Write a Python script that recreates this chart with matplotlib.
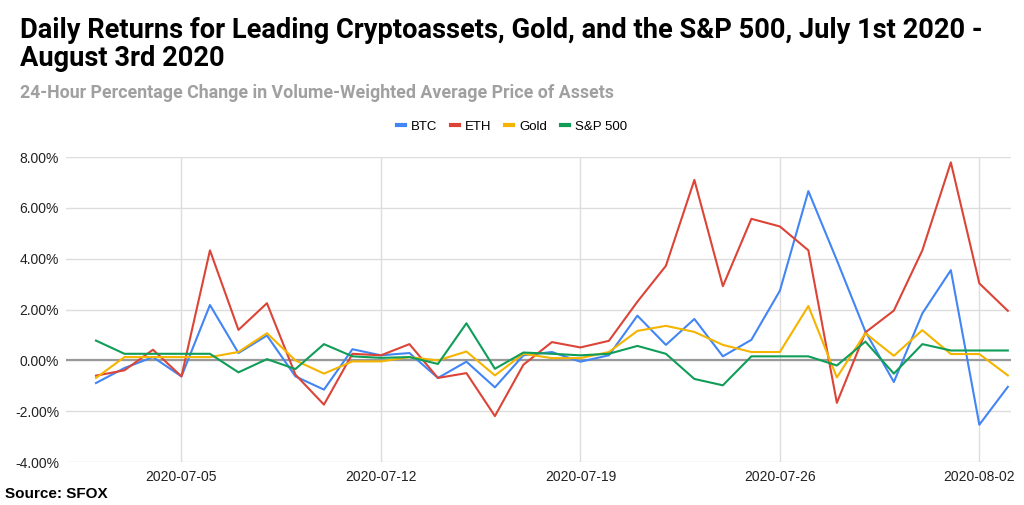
import matplotlib
matplotlib.use("Agg")
import matplotlib.pyplot as plt
import matplotlib.dates as mdates
from matplotlib.ticker import FuncFormatter, MultipleLocator
import numpy as np
import datetime as dt

plt.rcParams['font.family'] = ['Liberation Sans', 'DejaVu Sans']

start = dt.date(2020, 7, 2)
dates = [start + dt.timedelta(days=i) for i in range(33)]

btc = [-0.89, -0.30, 0.13, -0.63, 2.18, 0.29, 0.98, -0.63, -1.15, 0.44, 0.20,
       0.29, -0.69, -0.05, -1.06, 0.20, 0.33, -0.05, 0.20, 1.76, 0.61, 1.63,
       0.16, 0.81, 2.74, 6.66, 3.94, 1.14, -0.85, 1.85, 3.55, -2.53, -1.04]
eth = [-0.60, -0.39, 0.42, -0.63, 4.33, 1.20, 2.25, -0.56, -1.74, 0.26, 0.20,
       0.64, -0.69, -0.50, -2.19, -0.17, 0.72, 0.51, 0.77, 2.31, 3.72, 7.10,
       2.92, 5.57, 5.27, 4.33, -1.67, 1.10, 1.96, 4.33, 7.79, 3.03, 1.95]
gold = [-0.69, 0.13, 0.13, 0.13, 0.13, 0.33, 1.07, 0.00, -0.52, -0.04, -0.04,
        0.13, 0.00, 0.35, -0.59, 0.26, 0.09, 0.09, 0.33, 1.16, 1.36, 1.12,
        0.61, 0.33, 0.33, 2.14, -0.67, 1.07, 0.18, 1.19, 0.25, 0.25, -0.59]
spx = [0.78, 0.26, 0.26, 0.26, 0.26, -0.47, 0.05, -0.34, 0.64, 0.16, 0.10,
       0.13, -0.14, 1.46, -0.33, 0.31, 0.26, 0.20, 0.26, 0.57, 0.26, -0.73,
       -0.98, 0.16, 0.16, 0.16, -0.20, 0.74, -0.52, 0.64, 0.39, 0.39, 0.39]

series = [("BTC", btc, "#4285F4"), ("ETH", eth, "#DB4437"),
          ("Gold", gold, "#F4B400"), ("S&P 500", spx, "#0F9D58")]

fig = plt.figure(figsize=(10.24, 5.05), dpi=100)
ax = fig.add_axes([0.0645, 0.085, 0.9225, 0.604])

x = mdates.date2num(dates)
for name, vals, col in series:
    ax.plot(x, vals, color=col, lw=1.5, label=name)

ax.set_ylim(-4, 8)
ax.yaxis.set_major_locator(MultipleLocator(2))
ax.yaxis.set_major_formatter(FuncFormatter(lambda v, p: f"{v:.2f}%"))
ax.set_xlim(x[0] - 1.05, x[-1] + 0.1)
ticks = [dt.date(2020, 7, 5), dt.date(2020, 7, 12), dt.date(2020, 7, 19),
         dt.date(2020, 7, 26), dt.date(2020, 8, 2)]
ax.set_xticks(mdates.date2num(ticks))
ax.set_xticklabels([t.isoformat() for t in ticks])
ax.grid(True, color="#dddddd", lw=1)
ax.set_axisbelow(True)
ax.axhline(0, color="#999999", lw=1.6, zorder=1.5)
for s in ax.spines.values():
    s.set_visible(False)
ax.tick_params(length=0, labelsize=10, colors="#222222")
ax.tick_params(axis='y', pad=5)
ax.tick_params(axis='x', pad=6)

leg = fig.legend(loc="center", bbox_to_anchor=(0.5, 1 - 127 / 505), ncol=4,
                 frameon=False, fontsize=9.5, handlelength=0.6, handletextpad=0.5,
                 columnspacing=1.0)
for h in leg.get_lines():
    h.set_linewidth(3)

tfont = ['Roboto', 'DejaVu Sans']
fig.text(20 / 1024, 1 - 31 / 505, "Daily Returns for Leading Cryptoassets, Gold, and the S&P 500, July 1st 2020 -",
         fontsize=19.6, fontweight="bold", va="center", ha="left", color="#000000", family=tfont)
fig.text(20 / 1024, 1 - 59 / 505, "August 3rd 2020",
         fontsize=19.6, fontweight="bold", va="center", ha="left", color="#000000", family=tfont)
fig.text(20 / 1024, 1 - 93 / 505, "24-Hour Percentage Change in Volume-Weighted Average Price of Assets",
         fontsize=12.8, fontweight="bold", va="center", ha="left", color="#a0a0a0", family=tfont)
fig.text(5 / 1024, 1 - 494 / 505, "Source: SFOX", fontsize=11, fontweight="bold",
         va="center", ha="left", color="#000000")

fig.savefig("out.png", dpi=100, facecolor="white")
